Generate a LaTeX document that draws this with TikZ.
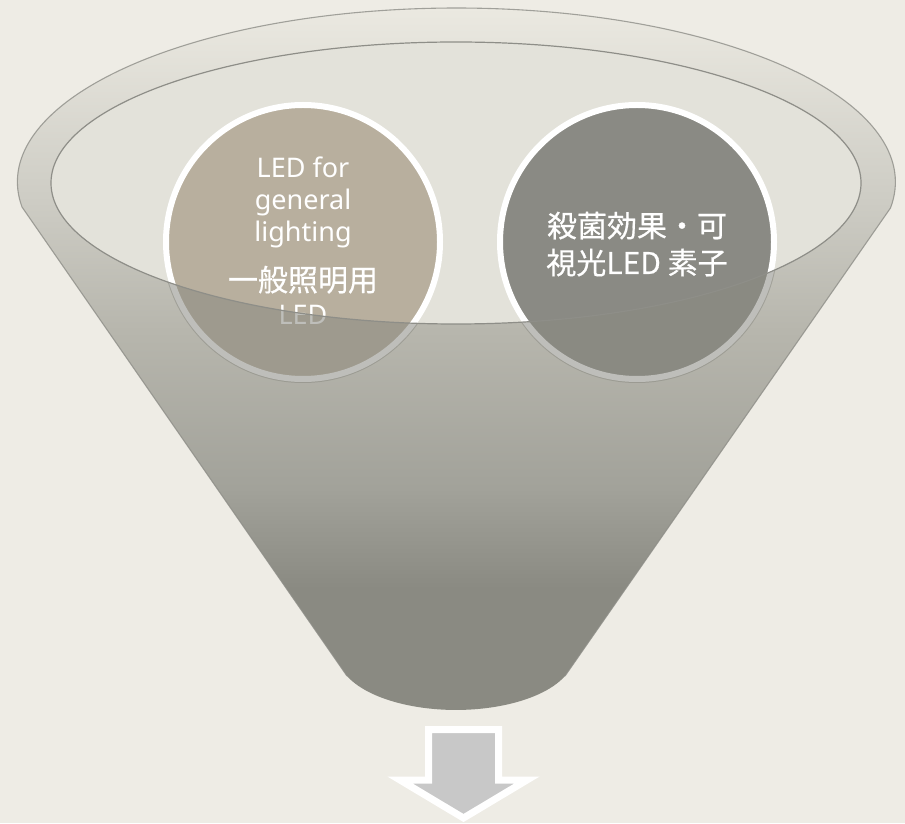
\documentclass[tikz,border=0pt]{standalone}
\usepackage{fontspec}
\setmainfont{Noto Sans}
\newfontfamily\cjk[FakeBold=0.5]{Noto Sans CJK JP}
\definecolor{bg}{HTML}{EEECE5}
\definecolor{fA}{RGB}{138,138,130}
\definecolor{fB}{RGB}{162,162,154}
\definecolor{fC}{RGB}{183,182,173}
\definecolor{fD}{RGB}{205,204,196}
\definecolor{fE}{RGB}{236,234,226}
\definecolor{innerc}{HTML}{E3E2DA}
\definecolor{edgec}{HTML}{8E8E88}
\definecolor{leftc}{HTML}{B8AF9E}
\definecolor{rightc}{HTML}{8A8A84}
\definecolor{ovc}{RGB}{138,138,130}
\definecolor{arrowc}{HTML}{C8C8C8}
\pgfdeclareverticalshading{funnelshade}{100bp}{color(0bp)=(fA); color(34bp)=(fA); color(41bp)=(fB); color(52bp)=(fC); color(61bp)=(fD); color(75bp)=(fE); color(100bp)=(fE)}
\begin{document}
\begin{tikzpicture}[x=1pt,y=1pt,
  circ/.style={circle, draw=white, line width=6pt, minimum size=274pt, inner sep=0pt},
  lat/.style={text=white, anchor=base, font=\fontsize{27}{32}\selectfont},
  cj/.style={text=white, anchor=base, font=\cjk\fontsize{30}{36}\selectfont}]
\useasboundingbox (0,0) rectangle (905,823);
\fill[bg] (0,0) rectangle (905,823);
% funnel body
\shade[shading=funnelshade] (22,616) arc[start angle=188.26, end angle=-8.6, x radius=439, y radius=174] -- (565,147) arc[start angle=-22.5, end angle=-157.5, x radius=118, y radius=55] -- cycle;
% inner opening
\fill[innerc] (456,640) ellipse[x radius=405, y radius=141];
% circles
\node[circ, fill=leftc] (c1) at (303,581) {};
\node[circ, fill=rightc] (c2) at (637,581) {};
% texts
\node[lat] (t1) at (303,645) {LED for};
\node[lat] (t2) at (303,613) {general};
\node[lat] (t3) at (303,581) {lighting};
\node[cj] (t4) at (303,532) {一般照明用};
\node[lat] (t5) at (303,498) {LED};
\node[cj] (r1) at (637,586) {殺菌効果・可};
\node[cj] (r2) at (637,549) {視光LED 素子};
% front wall overlay on circles
\begin{scope}
\clip (c1.center) circle[radius=141] (c2.center) circle[radius=141];
\fill[ovc, fill opacity=0.55, even odd rule] (0,0) rectangle (905,823) (456,640) ellipse[x radius=405, y radius=141];
\end{scope}
% outlines
\draw[edgec, line width=1.1pt, line join=round, draw opacity=0.8] (347,147) -- (22,616) arc[start angle=188.26, end angle=-8.6, x radius=439, y radius=174] -- (565,147);
\draw[edgec, line width=1.2pt] (456,640) ellipse[x radius=405, y radius=141];
% arrow
\draw[white, line width=7pt, fill=arrowc, miter limit=10] (428.5,93.5) -- (498.5,93.5) -- (498.5,43) -- (527,43) -- (463.5,5) -- (400,43) -- (428.5,43) -- cycle;
\end{tikzpicture}
\end{document}
